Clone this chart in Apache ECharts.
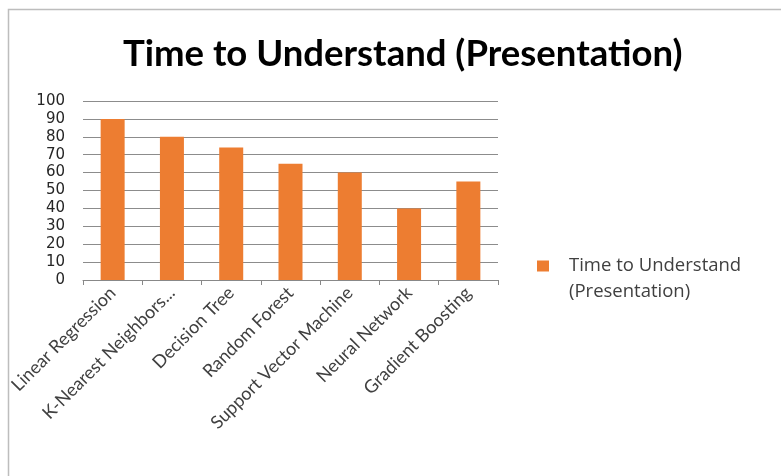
<!DOCTYPE html>
<html><head><meta charset="utf-8">
<script src="https://cdn.jsdelivr.net/npm/echarts@6/dist/echarts.min.js"></script>
<style>html,body{margin:0;padding:0;background:#fff}#c{width:781px;height:476px}</style>
</head><body><div id="c"></div>
<script>
const categories = ["Linear Regression","K-Nearest Neighbors...","Decision Tree","Random Forest","Support Vector Machine","Neural Network","Gradient Boosting"];
const values = [90, 80, 74, 65, 60, 40, 55];
const seriesName = "Time to Understand (Presentation)";
const titleText = "Time to Understand (Presentation)";
const chart = echarts.init(document.getElementById('c'));
chart.setOption({
  animation: false,
  backgroundColor: '#fff',
  graphic: [{type:'rect', shape:{x:8.5,y:9.5,width:900,height:600}, style:{fill:'none',stroke:'#bdbdbd',lineWidth:1.5}, silent:true}],
  title: {text: titleText, left: 118, top: 31, textStyle:{fontFamily:'Lato', fontWeight:'bold', fontSize:36.5, color:'#000'}},
  legend: {orient:'vertical', left: 532, top: 222, itemWidth: 12, itemHeight: 11, icon:'rect',
    formatter: () => '\nTime to Understand\n(Presentation)',
    textStyle:{fontFamily:'Open Sans', fontSize:18.5, color:'#404040', lineHeight:26, padding:[0,0,0,15]}},
  grid: {left: 83, right: 283, top: 101, bottom: 196},
  xAxis: {type:'category', data: categories,
    axisLine:{lineStyle:{color:'#888', width:1}},
    axisTick:{show:true, length:5, lineStyle:{color:'#888'}},
    axisLabel:{rotate:45, interval:0, fontFamily:'Lato', fontSize:18, color:'#404040', margin:10}},
  yAxis: {type:'value', min:0, max:100, interval:10,
    axisLine:{show:false}, axisTick:{show:false},
    splitLine:{lineStyle:{color:'#8c8c8c', width:1}},
    axisLabel:{fontFamily:'DejaVu Sans', fontSize:15, color:'#262626', margin:18}},
  series: [{name: seriesName, type:'bar', data: values, barWidth: 24, itemStyle:{color:'#ED7D31'}}]
});
</script></body></html>
